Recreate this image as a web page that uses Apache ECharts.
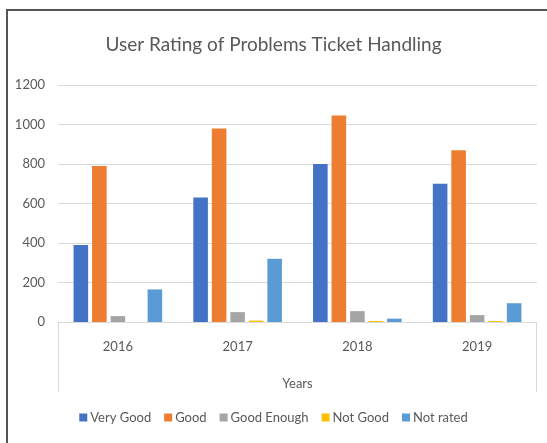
<!DOCTYPE html>
<html><head><meta charset="utf-8">
<script src="https://cdn.jsdelivr.net/npm/echarts@6/dist/echarts.min.js"></script>
<style>html,body{margin:0;padding:0;background:#fff}#c{width:547px;height:443px}</style>
</head><body><div id="c"></div>
<script>
const categories = ['2016', '2017', '2018', '2019'];
const seriesNames = ['Very Good', 'Good', 'Good Enough', 'Not Good', 'Not rated'];
const veryGood = [390, 630, 800, 700];
const good = [790, 980, 1045, 870];
const goodEnough = [30, 50, 55, 35];
const notGood = [0, 7, 5, 5];
const notRated = [165, 320, 17, 95];
const yTicks = [0, 200, 400, 600, 800, 1000, 1200];
const colors = ['#4472C4', '#ED7D31', '#A5A5A5', '#FFC000', '#5B9BD5'];
const values = [veryGood, good, goodEnough, notGood, notRated];
const FONT = 'Lato';
const chart = echarts.init(document.getElementById('c'), null, {renderer: 'canvas'});
const gl = 58, gr = 537, gt = 85, gb = 322;
chart.setOption({
  animation: false,
  color: colors,
  title: {
    text: 'User Rating of Problems Ticket Handling',
    left: 'center', top: 30,
    textStyle: {fontFamily: FONT, fontSize: 19, fontWeight: 'normal', color: '#595959'}
  },
  legend: {
    bottom: 14, left: 'center',
    icon: 'rect', itemWidth: 8, itemHeight: 8, itemGap: 13,
    textStyle: {fontFamily: FONT, fontSize: 13, color: '#595959', padding: [0, 0, 0, -2]},
    data: seriesNames
  },
  grid: {left: gl, right: 547 - gr, top: gt, bottom: 443 - gb},
  xAxis: {
    type: 'category', data: categories,
    name: 'Years', nameLocation: 'middle', nameGap: 55,
    nameTextStyle: {fontFamily: FONT, fontSize: 13, color: '#595959'},
    axisLine: {lineStyle: {color: '#d9d9d9'}},
    axisTick: {show: false},
    axisLabel: {fontFamily: FONT, fontSize: 13, color: '#595959', margin: 18}
  },
  yAxis: {
    type: 'value', min: yTicks[0], max: yTicks[yTicks.length - 1], interval: 200,
    axisLine: {show: false}, axisTick: {show: false},
    axisLabel: {fontFamily: FONT, fontSize: 13, color: '#595959', margin: 13, formatter: v => String(v)},
    splitLine: {lineStyle: {color: '#d9d9d9'}}
  },
  graphic: [
    {type: 'rect', shape: {x: 7, y: 10, width: 560, height: 460}, style: {fill: 'none', stroke: '#555', lineWidth: 2}},
    {type: 'line', shape: {x1: gl + 0.5, y1: gb, x2: gl + 0.5, y2: 392}, style: {stroke: '#d9d9d9', lineWidth: 1}},
    {type: 'line', shape: {x1: gr - 0.5, y1: gb, x2: gr - 0.5, y2: 392}, style: {stroke: '#d9d9d9', lineWidth: 1}}
  ],
  series: seriesNames.map((n, i) => ({
    name: n, type: 'bar', data: values[i],
    barGap: '27%', barCategoryGap: '26%'
  }))
});
</script></body></html>
